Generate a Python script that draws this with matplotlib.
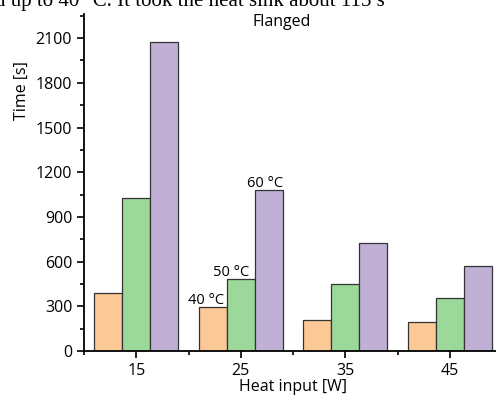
import numpy as np
import matplotlib.pyplot as plt
from matplotlib.ticker import MultipleLocator

heat_input = [15, 25, 35, 45]
time_40 = [387, 295, 206, 197]
time_50 = [1025, 481, 450, 354]
time_60 = [2075, 1082, 722, 570]
series_labels = ['40 °C', '50 °C', '60 °C']
colors = ['#FCC896', '#9DD89B', '#C0B0D6']

plt.rcParams['font.family'] = ['Open Sans', 'DejaVu Sans']

W, H = 496, 399
fig = plt.figure(figsize=(W / 100, H / 100), dpi=100)
ax = fig.add_axes([84 / W, 48 / H, 418 / W, 337 / H])

w = 8 / 3
x = np.array(heat_input, dtype=float)
for i, (vals, c) in enumerate(zip([time_40, time_50, time_60], colors)):
    ax.bar(x + (i - 1) * w, vals, width=w, color=c, edgecolor='#333333', linewidth=0.9)

# labels above the 25 W group
ax.text(x[1] - w - 0.7, time_40[1] + 20, series_labels[0], ha='center', va='baseline', fontsize=10.5)
ax.text(x[1] - 0.9, time_50[1] + 20, series_labels[1], ha='center', va='baseline', fontsize=10.5)
ax.text(x[1] + w - 0.3, time_60[1] + 18, series_labels[2], ha='center', va='baseline', fontsize=10.5)

ax.set_xlim(10, 50)
ax.set_ylim(0, 2262)
ax.set_xticks(heat_input)
ax.xaxis.set_minor_locator(MultipleLocator(10))
ax.set_yticks(np.arange(0, 2101, 300))
ax.yaxis.set_minor_locator(MultipleLocator(150))
ax.tick_params(axis='both', which='major', direction='out', length=5, width=1.2, labelsize=11.5)
ax.tick_params(axis='both', which='minor', direction='out', length=3, width=1.2)

for s in ['top', 'right']:
    ax.spines[s].set_visible(False)
for s in ['left', 'bottom']:
    ax.spines[s].set_linewidth(1.3)

ax.set_xlabel('Heat input [W]', fontsize=11.5, labelpad=0)
fig.text(22 / W, 1 - 91 / H, 'Time [s]', rotation=90, ha='center', va='center', fontsize=11.5)
fig.text(282 / W, 1 - 22 / H, 'Flanged', ha='center', va='center', fontsize=11.5)

# cropped line of body text at the very top
fig.text(-0.01, 1 - 6 / H, 'd up to 40 °C. It took the heat sink about 115 s',
         family='Liberation Serif', fontsize=15, va='baseline', ha='left')

fig.savefig('out.png', dpi=100)
